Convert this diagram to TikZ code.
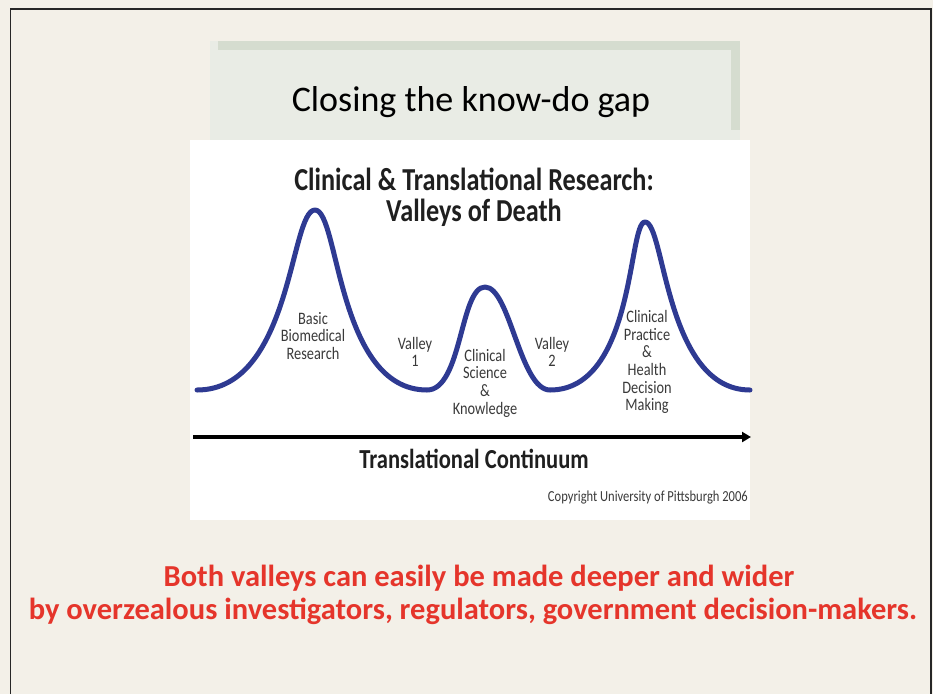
\documentclass[tikz,border=0pt]{standalone}
\usepackage{fontspec}
\setmainfont{Carlito}
\newfontfamily\condfont[FakeStretch=0.82]{Carlito}
\usetikzlibrary{arrows.meta,positioning}
\definecolor{slidebg}{HTML}{F3F0E8}
\definecolor{titlefill}{HTML}{E9ECE5}
\definecolor{titlerim}{HTML}{D5DCCF}
\definecolor{curveblue}{HTML}{2E3A92}
\definecolor{warnred}{HTML}{E5352B}
\definecolor{labelgray}{HTML}{3A3A3A}
\tikzset{%
	peaklabel/.style = {align=center, text=labelgray, inner sep=0pt, font=\condfont\fontsize{17.5}{17.7}\selectfont},
	charttitle/.style= {anchor=base, text=black!88, inner sep=0pt, font=\condfont\bfseries\fontsize{32}{32}\selectfont},
	redline/.style   = {anchor=base, text=warnred, inner sep=0pt, font=\bfseries\fontsize{30.5}{30.5}\selectfont},
	valleycurve/.style={line width=5pt, color=curveblue, line cap=round, line join=round},
}

\begin{document}
\begin{tikzpicture}[x=1pt,y=-1pt]
	\useasboundingbox (0,0) rectangle (933,694);
	\fill[slidebg] (0,0) rectangle (933,694);
	\draw[line width=1.5pt, color=black!85] (10.5,694) -- (10.5,9) -- (931,9) -- (931,694);
	
	% slide title box
	\fill[titlefill] (210,41) rectangle (740,140);
	\fill[titlerim] (218,41) rectangle (740,50);
	\fill[titlerim] (731,41) rectangle (740,130);
	\node[anchor=base, inner sep=0pt, font=\fontsize{36}{36}\selectfont] (slidetitle) at (471,111) {Closing the know-do gap};
	
	% chart panel
	\fill[white] (190,140) rectangle (750,520);
	\node[charttitle] (charttitleA) at (474,190) {Clinical \& Translational Research:};
	\node[charttitle] (charttitleB) at (474,221) {Valleys of Death};
	
	\coordinate (leftend) at (197,390);
	\coordinate (peakA) at (315,210);
	\coordinate (valleyAbot) at (427,390);
	\coordinate (peakB) at (485,287);
	\coordinate (valleyBbot) at (550,390);
	\coordinate (peakC) at (645,222);
	\coordinate (rightend) at (750,390);
	\draw[valleycurve] (leftend)
		.. controls +(95,0) and +(-25,0) .. (peakA)
		.. controls +(24,0) and +(-90,0) .. (valleyAbot)
		.. controls +(35,0) and +(-25,0) .. (peakB)
		.. controls +(25,0) and +(-30,0) .. (valleyBbot)
		.. controls +(85,0) and +(-17,0) .. (peakC)
		.. controls +(20,0) and +(-85,0) .. (rightend);
	
	\node[peaklabel] (basic) at (313,336) {Basic\\Biomedical\\Research};
	\node[peaklabel] (valleyA) at (415,352) {Valley\\1};
	\node[peaklabel] (science) at (485,383) {Clinical\\Science\\\&\\Knowledge};
	\node[peaklabel] (valleyB) at (552,352) {Valley\\2};
	\node[peaklabel] (practice) at (647,362) {Clinical\\Practice\\\&\\Health\\Decision\\Making};
	
	\coordinate (axisstart) at (193,437);
	\coordinate (axisend) at (751,437);
	\draw[line width=4pt, -{Triangle[length=9pt,width=10pt]}] (axisstart) -- (axisend);
	\node[anchor=base, inner sep=0pt, text=black!88, font=\condfont\bfseries\fontsize{27.5}{27.5}\selectfont] (continuum) at (474,468) {Translational Continuum};
	\node[anchor=base east, inner sep=0pt, text=labelgray, font=\condfont\fontsize{15.3}{15.3}\selectfont] (copyright) at (748,501) {Copyright University of Pittsburgh 2006};
	
	% warning under the chart
	\node[redline] (warnA) at (479,586) {Both valleys can easily be made deeper and wider};
	\node[redline] (warnB) at (473,619) {by overzealous investigators, regulators, government decision-makers.};
	
\end{tikzpicture}
\end{document}
